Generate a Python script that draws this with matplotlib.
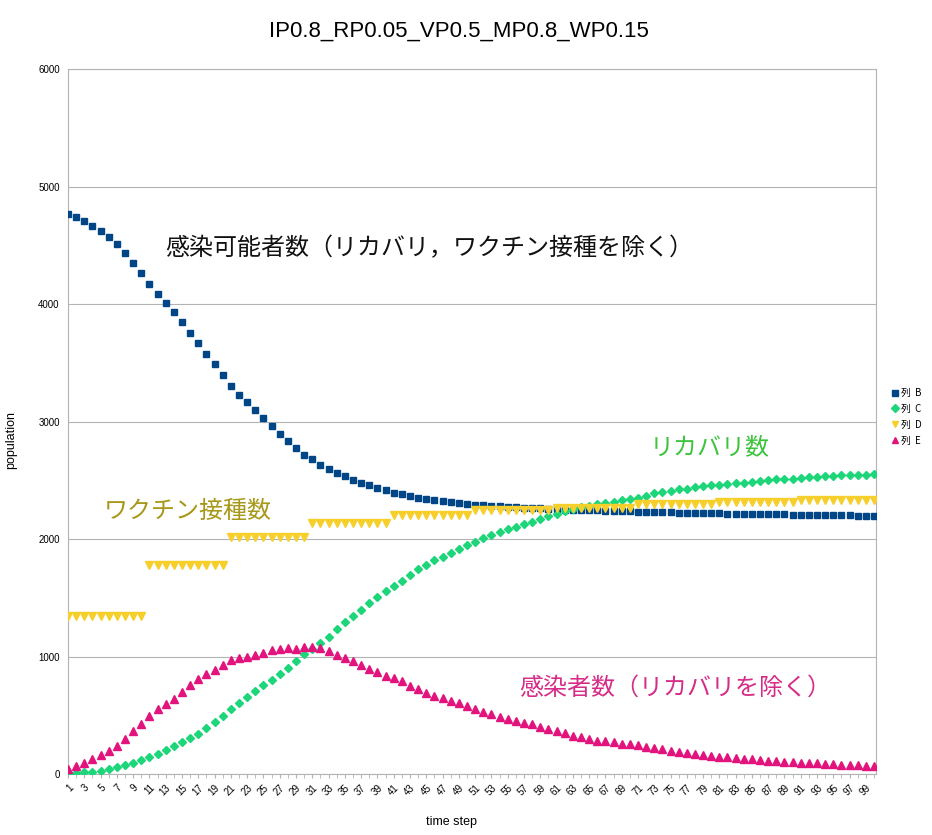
import matplotlib
matplotlib.use("Agg")
import matplotlib.pyplot as plt
import numpy as np

# data (time steps 1..100)
steps = np.arange(1, 101)

# 列 B : susceptible (excluding recovered / vaccinated)
susceptible = [4772, 4743, 4709, 4670, 4624, 4573, 4516, 4440, 4355, 4270,
               4170, 4088, 4014, 3932, 3847, 3751, 3666, 3572, 3489, 3396,
               3302, 3226, 3169, 3101, 3032, 2962, 2896, 2837, 2777, 2718,
               2680, 2630, 2593, 2567, 2536, 2500, 2478, 2461, 2438, 2417,
               2397, 2380, 2365, 2354, 2342, 2331, 2322, 2313, 2304, 2297,
               2292, 2287, 2282, 2278, 2274, 2270, 2267, 2264, 2261, 2258,
               2255, 2252, 2250, 2248, 2246, 2244, 2242, 2240, 2238, 2236,
               2234, 2232, 2230, 2229, 2227, 2226, 2224, 2223, 2222, 2220,
               2219, 2218, 2216, 2215, 2214, 2213, 2212, 2211, 2210, 2209,
               2208, 2207, 2206, 2205, 2204, 2203, 2202, 2201, 2200, 2199]

# 列 C : recovered
recovered = [0, 6, 14, 20, 28, 40, 60, 74, 96, 119,
             147, 173, 204, 241, 272, 306, 343, 391, 440, 496,
             550, 601, 655, 706, 757, 800, 851, 906, 960, 1018,
             1066, 1116, 1169, 1237, 1295, 1343, 1396, 1452, 1504, 1557,
             1600, 1643, 1694, 1742, 1782, 1821, 1850, 1884, 1915, 1946,
             1977, 2009, 2037, 2062, 2085, 2105, 2125, 2148, 2170, 2196,
             2218, 2241, 2255, 2270, 2281, 2298, 2306, 2320, 2332, 2340,
             2354, 2371, 2389, 2400, 2411, 2423, 2428, 2440, 2451, 2460,
             2465, 2468, 2479, 2482, 2488, 2496, 2502, 2508, 2513, 2516,
             2522, 2525, 2530, 2536, 2539, 2542, 2545, 2547, 2550, 2553]

# 列 D : vaccinated (steps every 10 time steps)
vaccinated = ([1345] * 10 + [1782] * 10 + [2015] * 10 + [2138] * 10 + [2205] * 10 +
              [2250] * 10 + [2268] * 10 + [2295] * 10 + [2318] * 10 + [2335] * 10)

# 列 E : infected (excluding recovered)
infected = [43, 68, 96, 128, 164, 198, 241, 298, 366, 428,
            494, 553, 596, 638, 695, 757, 811, 851, 885, 925,
            968, 990, 993, 1010, 1032, 1058, 1066, 1072, 1066, 1078,
            1078, 1070, 1048, 1012, 985, 963, 928, 894, 871, 837,
            814, 791, 752, 723, 686, 664, 644, 621, 601, 579,
            553, 530, 511, 488, 468, 451, 437, 423, 397, 383,
            369, 352, 326, 312, 298, 283, 278, 270, 258, 253,
            244, 230, 219, 210, 196, 187, 181, 170, 162, 156,
            147, 142, 136, 130, 125, 117, 111, 108, 102, 99,
            96, 94, 91, 88, 82, 79, 77, 74, 71, 68]

plt.rcParams['font.family'] = ['Liberation Sans', 'DejaVu Sans']
jp_font = ['Noto Sans CJK JP', 'DejaVu Sans']

fig = plt.figure(figsize=(9.32, 8.35), dpi=100)
ax = fig.add_axes([0.073, 0.073, 0.867, 0.844])

ax.plot(steps, susceptible, 's', color='#004586', markersize=4.8, label='列  B', zorder=3)
ax.plot(steps, recovered, 'D', color='#1ed67a', markersize=4.0, label='列  C', zorder=3)
ax.plot(steps, vaccinated, 'v', color='#f7cf2a', markersize=5.4, label='列  D', zorder=3)
ax.plot(steps, infected, '^', color='#e2137d', markersize=5.4, label='列  E', zorder=3)

ax.set_xlim(1, 100.25)
ax.set_ylim(0, 6000)
ax.set_yticks(np.arange(0, 6001, 1000))
ax.set_xticks(steps, minor=True)
ax.set_xticks(steps[::2])
ax.set_xticklabels([str(s) for s in steps[::2]], rotation=45, ha='right',
                   rotation_mode='anchor', fontsize=7)
ax.tick_params(axis='x', which='both', length=3, color='#b3b3b3', pad=3)
ax.tick_params(axis='y', length=0, labelsize=7, pad=6)
ax.grid(axis='y', color='#b3b3b3', linewidth=0.8)
ax.set_axisbelow(True)
for s in ax.spines.values():
    s.set_color('#b3b3b3')
    s.set_linewidth(0.8)

# axis titles and chart title
fig.text(0.484, 0.015, 'time step', fontsize=9, ha='center', va='center')
fig.text(0.012, 0.473, 'population', fontsize=9, rotation=90, ha='center', va='center')
fig.text(0.492, 0.963, 'IP0.8_RP0.05_VP0.5_MP0.8_WP0.15', ha='center', va='center',
         fontsize=16)

# annotations
fig.text(0.177, 0.703, '感染可能者数（リカバリ，ワクチン接種を除く）', fontsize=17.3,
         family=jp_font, color='#111111', va='center')
fig.text(0.697, 0.465, 'リカバリ数', fontsize=17.3, family=jp_font,
         color='#3cc43c', va='center')
fig.text(0.111, 0.388, 'ワクチン接種数', fontsize=17.3, family=jp_font,
         color='#a8981a', va='center')
fig.text(0.557, 0.176, '感染者数（リカバリを除く）', fontsize=17.3, family=jp_font,
         color='#d62c88', va='center')

leg = ax.legend(loc='upper left', bbox_to_anchor=(0.953, 0.54), bbox_transform=fig.transFigure,
                frameon=False, handlelength=0.6, handletextpad=0.3,
                labelspacing=0.6, markerscale=0.9, borderaxespad=0,
                prop={'family': jp_font, 'size': 7})

fig.savefig('out.png', dpi=100)
